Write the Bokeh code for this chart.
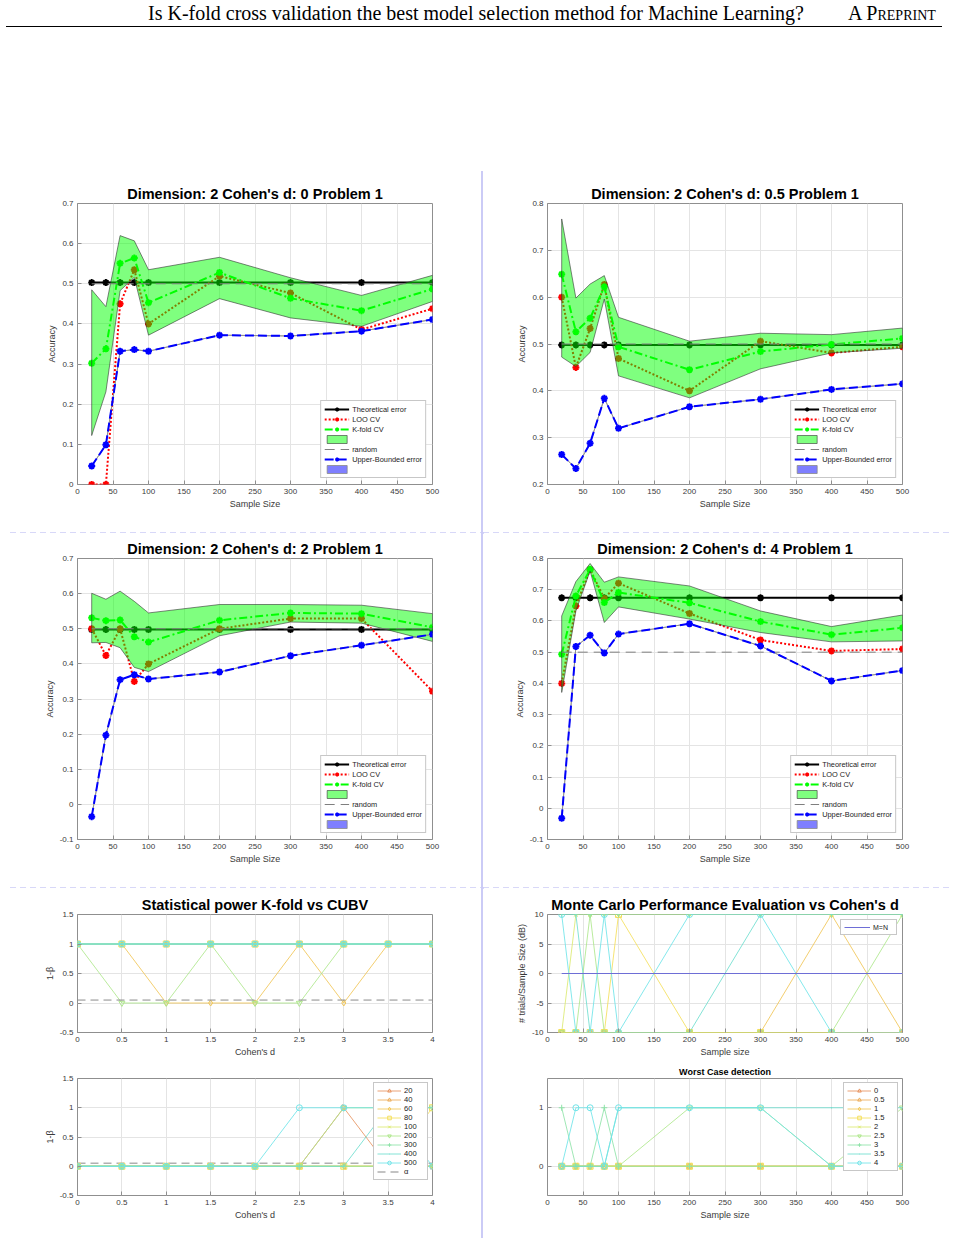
import math

from bokeh.plotting import figure
from bokeh.models import Range1d, FixedTicker, Legend, LegendItem, Div, Spacer
from bokeh.layouts import column, row
from bokeh.embed import file_html
from bokeh.resources import INLINE

# ---------------------------------------------------------------- data
sample_size = [20, 40, 60, 80, 100, 200, 300, 400, 500]
size_ticks = [0, 50, 100, 150, 200, 250, 300, 350, 400, 450, 500]

random_x = [20, 500]
random_acc = [0.5, 0.5]

# Cohen's d = 0
theo_d0 = [0.503, 0.503, 0.503, 0.503, 0.503, 0.503, 0.503, 0.503, 0.503]
loo_d0 = [0.0, 0.0, 0.450, 0.535, 0.400, 0.519, 0.477, 0.386, 0.438]
kfold_d0 = [0.302, 0.338, 0.551, 0.564, 0.453, 0.528, 0.464, 0.433, 0.487]
kfold_hi_d0 = [0.485, 0.443, 0.620, 0.607, 0.535, 0.566, 0.515, 0.471, 0.521]
kfold_lo_d0 = [0.122, 0.231, 0.483, 0.516, 0.372, 0.463, 0.415, 0.394, 0.456]
ubound_d0 = [0.046, 0.099, 0.332, 0.336, 0.332, 0.372, 0.370, 0.382, 0.411]
acc_ticks_d0 = [0, 0.1, 0.2, 0.3, 0.4, 0.5, 0.6, 0.7]

# Cohen's d = 0.5
theo_d05 = [0.498, 0.498, 0.498, 0.498, 0.498, 0.498, 0.498, 0.498, 0.498]
loo_d05 = [0.600, 0.450, 0.533, 0.627, 0.469, 0.400, 0.506, 0.481, 0.494]
kfold_d05 = [0.649, 0.526, 0.555, 0.622, 0.494, 0.445, 0.484, 0.499, 0.512]
kfold_hi_d05 = [0.767, 0.598, 0.628, 0.646, 0.557, 0.506, 0.523, 0.520, 0.534]
kfold_lo_d05 = [0.472, 0.452, 0.482, 0.596, 0.432, 0.385, 0.447, 0.481, 0.491]
ubound_d05 = [0.264, 0.234, 0.288, 0.384, 0.320, 0.366, 0.382, 0.403, 0.415]
acc_ticks_d05 = [0.2, 0.3, 0.4, 0.5, 0.6, 0.7, 0.8]

# Cohen's d = 2
theo_d2 = [0.498, 0.498, 0.498, 0.498, 0.498, 0.498, 0.498, 0.498, 0.498]
loo_d2 = [0.500, 0.424, 0.500, 0.350, 0.400, 0.500, 0.529, 0.529, 0.322]
kfold_d2 = [0.531, 0.523, 0.525, 0.477, 0.462, 0.524, 0.545, 0.543, 0.504]
kfold_hi_d2 = [0.601, 0.584, 0.607, 0.578, 0.545, 0.569, 0.569, 0.567, 0.543]
kfold_lo_d2 = [0.460, 0.461, 0.446, 0.390, 0.378, 0.480, 0.519, 0.516, 0.464]
ubound_d2 = [-0.035, 0.197, 0.355, 0.369, 0.357, 0.377, 0.423, 0.453, 0.484]
acc_ticks_d2 = [-0.1, 0, 0.1, 0.2, 0.3, 0.4, 0.5, 0.6, 0.7]

# Cohen's d = 4
theo_d4 = [0.674, 0.674, 0.674, 0.674, 0.674, 0.674, 0.674, 0.674, 0.674]
loo_d4 = [0.400, 0.648, 0.765, 0.672, 0.721, 0.624, 0.539, 0.504, 0.510]
kfold_d4 = [0.493, 0.680, 0.765, 0.659, 0.691, 0.658, 0.598, 0.556, 0.578]
kfold_hi_d4 = [0.616, 0.726, 0.784, 0.724, 0.741, 0.712, 0.632, 0.582, 0.619]
kfold_lo_d4 = [0.371, 0.632, 0.760, 0.595, 0.645, 0.606, 0.563, 0.533, 0.536]
ubound_d4 = [-0.032, 0.518, 0.554, 0.497, 0.558, 0.591, 0.520, 0.408, 0.441]
acc_ticks_d4 = [-0.1, 0, 0.1, 0.2, 0.3, 0.4, 0.5, 0.6, 0.7, 0.8]

# statistical power (one row per sample size, columns follow cohens_d)
cohens_d = [0, 0.5, 1, 1.5, 2, 2.5, 3, 3.5, 4]
cohen_ticks = [0, 0.5, 1, 1.5, 2, 2.5, 3, 3.5, 4]
power_ticks = [-0.5, 0, 0.5, 1, 1.5]
alpha_x = [0, 4]
alpha_level = [0.05, 0.05]
size_labels = ["20", "40", "60", "80", "100", "200", "300", "400", "500"]

power_kfold = [
    [1, 1, 1, 1, 1, 1, 1, 1, 1],
    [1, 1, 1, 1, 1, 1, 1, 1, 1],
    [1, 1, 0, 0, 0, 1, 0, 1, 1],
    [1, 1, 1, 1, 1, 1, 1, 1, 1],
    [1, 1, 1, 1, 1, 1, 1, 1, 1],
    [1, 0, 0, 1, 0, 0, 1, 1, 1],
    [1, 1, 1, 1, 1, 1, 1, 1, 1],
    [1, 1, 1, 1, 1, 1, 1, 1, 1],
    [1, 1, 1, 1, 1, 1, 1, 1, 1],
]
power_cubv = [
    [0, 0, 0, 0, 0, 0, 1, 0, 0],
    [0, 0, 0, 0, 0, 0, 0, 0, 0],
    [0, 0, 0, 0, 0, 0, 0, 0, 0],
    [0, 0, 0, 0, 0, 0, 0, 0, 1],
    [0, 0, 0, 0, 0, 0, 0, 0, 0],
    [0, 0, 0, 0, 0, 0, 1, 1, 1],
    [0, 0, 0, 0, 0, 0, 0, 0, 0],
    [0, 0, 0, 0, 0, 0, 0, 1, 1],
    [0, 0, 0, 0, 0, 1, 1, 1, 0],
]

# Monte Carlo trials / sample size (dB), one row per Cohen's d
cohen_labels = ["0", "0.5", "1", "1.5", "2", "2.5", "3", "3.5", "4"]
db_ticks = [-10, -5, 0, 5, 10]
mn_x = [20, 500]
mn_db = [0, 0]
trials_db = [
    [-10, -10, -10, -10, -10, -10, -10, -10, -10],
    [-10, -10, -10, -10, -10, -10, -10, -10, -10],
    [-10, -10, -10, -10, -10, -10, -10, 10, -10],
    [-10, -10, -10, -10, 10, -10, -10, -10, -10],
    [-10, 10, 10, 10, 10, 10, 10, 10, 10],
    [-10, -10, 10, -10, -10, -10, -10, -10, 10],
    [10, 10, 10, 10, 10, 10, 10, 10, 10],
    [10, 10, -10, -10, -10, -10, 10, 10, 10],
    [10, -10, -10, 10, -10, 10, 10, -10, -10],
]

# worst case detection, one row per Cohen's d
worst_ticks = [0, 1]
worst_case = [
    [0, 0, 0, 0, 0, 0, 0, 0, 0],
    [0, 0, 0, 0, 0, 0, 0, 0, 0],
    [0, 0, 0, 0, 0, 0, 0, 0, 0],
    [0, 0, 0, 0, 0, 0, 0, 0, 0],
    [0, 0, 0, 0, 0, 0, 0, 0, 0],
    [0, 0, 0, 0, 0, 1, 1, 0, 1],
    [1, 0, 0, 1, 0, 0, 0, 0, 0],
    [0, 0, 0, 0, 1, 1, 1, 1, 1],
    [0, 1, 1, 0, 1, 1, 1, 0, 0],
]

# ---------------------------------------------------------------- style
FONT = "Liberation Sans"
TEXT_GREY = "#3a3a3a"
FRAME_GREY = "#8f8f8f"
SEP_COLOR = "#cbcbf6"
NO_MARGIN = (0, 0, 0, 0)

series_colors = ["#E8935F", "#EDAC58", "#F1C656", "#F4DF5C", "#DCEA72",
                 "#AEE78C", "#8EE3A8", "#6FDECF", "#6FE4E9"]
series_markers = ["triangle", "triangle", "diamond", "square", "x",
                  "inverted_triangle", "cross", "dot", "circle"]
series_angles = [-math.pi / 2, math.pi / 2, 0, 0, 0, 0, 0, 0, 0]


def tick_text(t):
    return "%g" % t


def set_ticks(axis, ticks):
    axis.ticker = FixedTicker(ticks=ticks)
    axis.major_label_overrides = {t: tick_text(t) for t in ticks}


def base_axes(x_rng, y_rng, frame_h, border, title="", title_size="14.5px"):
    left, right, top, bottom = border
    p = figure(x_range=Range1d(*x_rng), y_range=Range1d(*y_rng),
               frame_width=355, frame_height=frame_h,
               min_border_left=left, min_border_right=right,
               min_border_top=top, min_border_bottom=bottom,
               output_backend="svg", toolbar_location=None, title=title,
               margin=NO_MARGIN)
    p.background_fill_color = "white"
    p.border_fill_color = "white"
    p.title.text_font = FONT
    p.title.text_font_size = title_size
    p.title.text_font_style = "bold"
    p.title.text_color = "black"
    p.title.align = "center"
    p.title.standoff = 3
    p.outline_line_color = FRAME_GREY
    p.outline_line_width = 1
    p.grid.grid_line_color = "#e4e4e4"
    for ax in (p.xaxis[0], p.yaxis[0]):
        ax.axis_line_color = None
        ax.major_tick_in = 4
        ax.major_tick_out = 0
        ax.major_tick_line_color = FRAME_GREY
        ax.minor_tick_line_color = None
        ax.major_label_text_font = FONT
        ax.major_label_text_font_size = "8px"
        ax.major_label_text_color = TEXT_GREY
        ax.major_label_standoff = 4
        ax.axis_label_text_font = FONT
        ax.axis_label_text_font_size = "9px"
        ax.axis_label_text_font_style = "normal"
        ax.axis_label_text_color = TEXT_GREY
        ax.axis_label_standoff = 2
    return p


def style_legend(leg, font_size, glyph_w, row_h, margin):
    leg.border_line_color = FRAME_GREY
    leg.border_line_width = 1
    leg.background_fill_color = "white"
    leg.background_fill_alpha = 1
    leg.label_text_font = FONT
    leg.label_text_font_size = font_size
    leg.label_text_color = "#222222"
    leg.glyph_width = glyph_w
    leg.glyph_height = row_h
    leg.label_height = row_h
    leg.label_standoff = 3
    leg.spacing = 0
    leg.padding = 3
    leg.margin = margin


def accuracy_panel(title, y_rng, y_ticks, theo, loo, kfold, hi, lo, ub, border):
    p = base_axes((0, 500), y_rng, 281, border, title)
    set_ticks(p.xaxis[0], size_ticks)
    set_ticks(p.yaxis[0], y_ticks)
    p.xaxis.axis_label = "Sample Size"
    p.yaxis.axis_label = "Accuracy"
    x = sample_size
    star = dict(marker="asterisk", size=7, line_width=2)

    theo_l = p.line(x, theo, line_color="black", line_width=2)
    theo_m = p.scatter(x, theo, line_color="black", **star)
    loo_l = p.line(x, loo, line_color="#ff0000", line_width=2, line_dash="2 2")
    loo_m = p.scatter(x, loo, line_color="#ff0000", **star)
    kf_l = p.line(x, kfold, line_color="#00ff00", line_width=2, line_dash="8 3 2 3")
    kf_m = p.scatter(x, kfold, line_color="#00ff00", **star)
    band = p.patch(x + x[::-1], hi + lo[::-1], fill_color="#00ff00", fill_alpha=0.5,
                   line_color="#333333", line_width=0.6)
    rnd = p.line(random_x, random_acc, line_color="#7f7f7f", line_width=1,
                 line_dash="10 6")
    ub_band = p.patch(x + x[::-1], ub + ub[::-1], fill_color="#0000ff", fill_alpha=0.5,
                      line_color="#8a8a8a", line_width=0.8)
    ub_l = p.line(x, ub, line_color="#0000ff", line_width=2, line_dash="9 4")
    ub_m = p.scatter(x, ub, line_color="#0000ff", **star)

    leg = Legend(items=[
        LegendItem(label="Theoretical error", renderers=[theo_l, theo_m]),
        LegendItem(label="LOO CV", renderers=[loo_l, loo_m]),
        LegendItem(label="K-fold CV", renderers=[kf_l, kf_m]),
        LegendItem(label=" ", renderers=[band]),
        LegendItem(label="random", renderers=[rnd]),
        LegendItem(label="Upper-Bounded error", renderers=[ub_l, ub_m]),
        LegendItem(label=" ", renderers=[ub_band]),
    ], location="bottom_right")
    style_legend(leg, "7.4px", 25, 10, 6)
    p.add_layout(leg)
    return p


def series_panel(p, xs, rows, labels, extra_items, location):
    items = []
    for i, ys in enumerate(rows):
        c = series_colors[i]
        ln = p.line(xs, ys, line_color=c, line_width=1, line_alpha=0.85)
        fill = c if series_markers[i] == "dot" else None
        mk = p.scatter(xs, ys, marker=series_markers[i], angle=series_angles[i],
                       size=6, line_color=c, fill_color=fill, line_width=1)
        items.append(LegendItem(label=labels[i], renderers=[ln, mk]))
    items.extend(extra_items)
    leg = Legend(items=items, location=location)
    style_legend(leg, "7.6px", 24, 9, 4)
    p.add_layout(leg)
    return p


# ---------------------------------------------------------------- panels
LEFT = (77, 49)
RIGHT = (64, 56)

fig_d0 = accuracy_panel("Dimension: 2 Cohen's d: 0 Problem 1", (0, 0.7), acc_ticks_d0,
                        theo_d0, loo_d0, kfold_d0, kfold_hi_d0, kfold_lo_d0, ubound_d0,
                        LEFT + (32, 38))
fig_d05 = accuracy_panel("Dimension: 2 Cohen's d: 0.5 Problem 1", (0.2, 0.8), acc_ticks_d05,
                         theo_d05, loo_d05, kfold_d05, kfold_hi_d05, kfold_lo_d05, ubound_d05,
                         RIGHT + (32, 38))
fig_d2 = accuracy_panel("Dimension: 2 Cohen's d: 2 Problem 1", (-0.1, 0.7), acc_ticks_d2,
                        theo_d2, loo_d2, kfold_d2, kfold_hi_d2, kfold_lo_d2, ubound_d2,
                        LEFT + (26, 38))
fig_d4 = accuracy_panel("Dimension: 2 Cohen's d: 4 Problem 1", (-0.1, 0.8), acc_ticks_d4,
                        theo_d4, loo_d4, kfold_d4, kfold_hi_d4, kfold_lo_d4, ubound_d4,
                        RIGHT + (26, 38))

# statistical power, K-fold
fig_pw_kfold = base_axes((0, 4), (-0.5, 1.5), 118, LEFT + (27, 28),
                         "Statistical power K-fold vs CUBV")
set_ticks(fig_pw_kfold.xaxis[0], cohen_ticks)
set_ticks(fig_pw_kfold.yaxis[0], power_ticks)
fig_pw_kfold.xaxis.axis_label = "Cohen's d"
fig_pw_kfold.yaxis.axis_label = "1-β"
for i, ys in enumerate(power_kfold):
    c = series_colors[i]
    fig_pw_kfold.line(cohens_d, ys, line_color=c, line_width=1, line_alpha=0.85)
    fig_pw_kfold.scatter(cohens_d, ys, marker=series_markers[i], angle=series_angles[i],
                         size=6, line_color=c,
                         fill_color=c if series_markers[i] == "dot" else None)
fig_pw_kfold.line(alpha_x, alpha_level, line_color="#8a8a8a", line_width=1, line_dash="8 5")

# statistical power, CUBV
fig_pw_cubv = base_axes((0, 4), (-0.5, 1.5), 117, LEFT + (18, 30))
set_ticks(fig_pw_cubv.xaxis[0], cohen_ticks)
set_ticks(fig_pw_cubv.yaxis[0], power_ticks)
fig_pw_cubv.xaxis.axis_label = "Cohen's d"
fig_pw_cubv.yaxis.axis_label = "1-β"
alpha_r = fig_pw_cubv.line(alpha_x, alpha_level, line_color="#b0b0b0", line_width=1.5,
                           line_dash="8 5")
series_panel(fig_pw_cubv, cohens_d, power_cubv, size_labels,
             [LegendItem(label="α", renderers=[alpha_r])], "top_right")

# Monte Carlo trials
fig_mc = base_axes((0, 500), (-10, 10), 118, RIGHT + (27, 28),
                   "Monte Carlo Performance Evaluation vs Cohen's d")
set_ticks(fig_mc.xaxis[0], size_ticks)
set_ticks(fig_mc.yaxis[0], db_ticks)
fig_mc.xaxis.axis_label = "Sample size"
fig_mc.yaxis.axis_label = "# trials/Sample Size (dB)"
for i, ys in enumerate(trials_db):
    c = series_colors[i]
    fig_mc.line(sample_size, ys, line_color=c, line_width=1, line_alpha=0.85)
    fig_mc.scatter(sample_size, ys, marker=series_markers[i], angle=series_angles[i],
                   size=6, line_color=c,
                   fill_color=c if series_markers[i] == "dot" else None)
mn_r = fig_mc.line(mn_x, mn_db, line_color="#6e6ed6", line_width=1)
mc_leg = Legend(items=[LegendItem(label="M=N", renderers=[mn_r])], location="top_right")
style_legend(mc_leg, "7px", 26, 8, 5)
fig_mc.add_layout(mc_leg)

# worst case detection
fig_worst = base_axes((0, 500), (-0.5, 1.5), 117, RIGHT + (18, 30),
                      "Worst Case detection", title_size="9px")
set_ticks(fig_worst.xaxis[0], size_ticks)
set_ticks(fig_worst.yaxis[0], worst_ticks)
fig_worst.xaxis.axis_label = "Sample size"
series_panel(fig_worst, sample_size, worst_case, cohen_labels, [], "top_right")

# ---------------------------------------------------------------- page
header_html = (
    '<div style="position:relative;width:958px;height:30px;'
    "font-family:'Liberation Serif',serif;color:#000;\">"
    '<span style="position:absolute;left:148px;top:2px;font-size:20px;line-height:22px;'
    'white-space:nowrap;">Is K-fold cross validation the best model selection method '
    'for Machine Learning?</span>'
    '<span style="position:absolute;left:848px;top:2px;font-size:20px;line-height:22px;'
    'font-variant:small-caps;white-space:nowrap;">A Preprint</span>'
    '<div style="position:absolute;left:6px;top:26px;width:936px;height:0;'
    'border-top:1px solid #000;"></div></div>'
)
header = Div(text=header_html, width=958, height=30, margin=NO_MARGIN)


def hsep(width, start, length):
    html = ('<div style="margin-top:4px;margin-left:%dpx;width:%dpx;height:2px;'
            'background:repeating-linear-gradient(to right,%s 0 6px,transparent 6px 10px);">'
            '</div>' % (start, length, SEP_COLOR))
    return Div(text=html, width=width, height=10, margin=NO_MARGIN)


vsep = Div(text='<div style="width:2px;height:1067px;background:%s;"></div>' % SEP_COLOR,
           width=2, height=1067, margin=NO_MARGIN)

left_col = column(fig_d0, hsep(481, 10, 471), fig_d2, hsep(481, 10, 471),
                  fig_pw_kfold, fig_pw_cubv, spacing=0, margin=NO_MARGIN)
right_col = column(fig_d05, hsep(475, 0, 467), fig_d4, hsep(475, 0, 467),
                   fig_mc, fig_worst, spacing=0, margin=NO_MARGIN)

page = column(header, Spacer(width=958, height=141, margin=NO_MARGIN),
              row(left_col, vsep, right_col, spacing=0, margin=NO_MARGIN),
              spacing=0, margin=NO_MARGIN)

open("out.html", "w").write(file_html(page, INLINE))
